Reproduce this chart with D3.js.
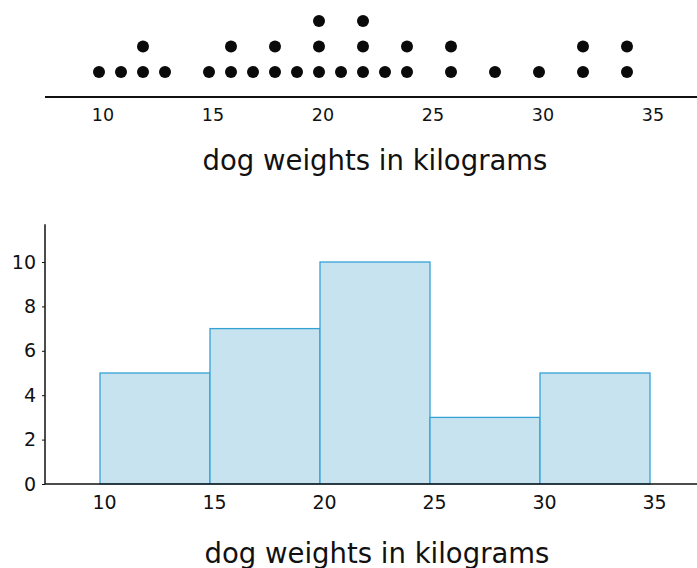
<!DOCTYPE html>
<html><head><meta charset="utf-8">
<script src="https://cdn.jsdelivr.net/npm/d3@7"></script>
<style>body{margin:0;background:#fff}svg{display:block}text{font-family:"DejaVu Sans",sans-serif;fill:#111}</style>
</head><body>
<script>
// dot plot data: dog weights (kg)
const weights = [10,11,12,12,13,15,16,16,17,18,18,19,20,20,20,21,22,22,22,23,24,24,26,26,28,30,32,32,34,34];
// histogram bins
const binStarts = [10,15,20,25,30];
const binCounts = [5,7,10,3,5];
const xTicks = [10,15,20,25,30,35];
const yTicks = [0,2,4,6,8,10];
const axisLabel = "dog weights in kilograms";

const W = 697, H = 568;
const svg = d3.select("body").append("svg").attr("width", W).attr("height", H);

// ---------- top dot plot ----------
const xTop = d3.scaleLinear().domain([10,35]).range([99,649]);
const axisY = 97;
const stackCount = {};
const dots = weights.map(w => { stackCount[w] = (stackCount[w]||0); const s = stackCount[w]++; return {w, s}; });
const yStack = d3.scaleLinear().domain([0,1]).range([72,46.5]);

const gTop = svg.append("g");
gTop.append("line").attr("x1",45).attr("x2",697).attr("y1",axisY).attr("y2",axisY)
  .attr("stroke","#111").attr("stroke-width",2);
gTop.selectAll("circle").data(dots).join("circle")
  .attr("cx", d => xTop(d.w)).attr("cy", d => yStack(d.s)).attr("r",6).attr("fill","#0a0a0a");
gTop.selectAll("text.tk").data(xTicks).join("text").attr("class","tk")
  .attr("x", d => xTop(d) + 4).attr("y", 121).attr("text-anchor","middle")
  .attr("font-size",17.5).text(d => d);
gTop.append("text").attr("x",375).attr("y",170).attr("text-anchor","middle")
  .attr("font-size",27.5).text(axisLabel);

// ---------- bottom histogram ----------
const x = d3.scaleLinear().domain([10,35]).range([100,650]);
const y = d3.scaleLinear().domain([0,10]).range([484,262]);
const x0 = 45;

const g = svg.append("g");
g.selectAll("rect").data(binStarts).join("rect")
  .attr("x", (d) => x(d)).attr("width", d => x(d+5) - x(d))
  .attr("y", (d,i) => y(binCounts[i])).attr("height", (d,i) => y(0) - y(binCounts[i]))
  .attr("fill","#c8e3f0").attr("stroke","#35a2d6").attr("stroke-width",1.3);

// axes
g.append("line").attr("x1",x0).attr("x2",697).attr("y1",y(0)).attr("y2",y(0)).attr("stroke","#111").attr("stroke-width",1.5);
g.append("line").attr("x1",x0).attr("x2",x0).attr("y1",y(0)).attr("y2",y(11.7)).attr("stroke","#111").attr("stroke-width",1.5);

const yAxis = d3.axisLeft(y).tickValues(yTicks).tickSize(3).tickPadding(6);
const ya = g.append("g").attr("transform",`translate(${x0},0)`).call(yAxis);
ya.select(".domain").remove();
ya.selectAll("line").attr("stroke","#111");
ya.selectAll("text").attr("font-size",19).attr("font-family","DejaVu Sans").attr("fill","#111");

const xAxis = d3.axisBottom(x).tickValues(xTicks).tickSize(0).tickPadding(12);
const xa = g.append("g").attr("transform",`translate(0,${y(0)})`).call(xAxis);
xa.select(".domain").remove();
xa.selectAll("text").attr("font-size",19).attr("font-family","DejaVu Sans").attr("fill","#111").attr("dx",4);

g.append("text").attr("x",377).attr("y",563).attr("text-anchor","middle")
  .attr("font-size",27.5).text(axisLabel);
</script>
</body></html>
